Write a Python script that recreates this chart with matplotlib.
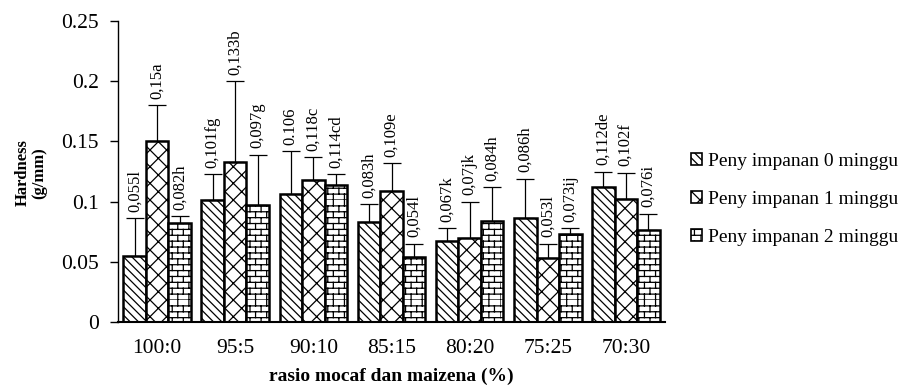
import warnings
warnings.filterwarnings("ignore")
import numpy as np
import matplotlib
matplotlib.use("Agg")
import matplotlib.pyplot as plt
import matplotlib.hatch as mhatch
from matplotlib.path import Path
from matplotlib.patches import Patch

# ---------------- data ----------------
categories = ["100:0", "95:5", "90:10", "85:15", "80:20", "75:25", "70:30"]
series_names = ["Peny impanan 0 minggu", "Peny impanan 1 minggu", "Peny impanan 2 minggu"]
week0 = [0.055, 0.101, 0.106, 0.083, 0.067, 0.086, 0.112]
week1 = [0.150, 0.133, 0.118, 0.109, 0.070, 0.053, 0.102]
week2 = [0.082, 0.097, 0.114, 0.054, 0.084, 0.073, 0.076]
err0 = [0.031, 0.022, 0.036, 0.015, 0.011, 0.033, 0.013]
err1 = [0.030, 0.067, 0.019, 0.023, 0.030, 0.012, 0.022]
err2 = [0.006, 0.042, 0.009, 0.011, 0.028, 0.005, 0.014]
labels0 = ["0,055l", "0,101fg", "0.106", "0,083h", "0,067k", "0,086h", "0,112de"]
labels1 = ["0,15a", "0,133b", "0,118c", "0,109e", "0,07jk", "0,053l", "0,102f"]
labels2 = ["0,082h", "0,097g", "0,114cd", "0,054l", "0,084h", "0,073ij", "0,076i"]
yticks = [0, 0.05, 0.1, 0.15, 0.2, 0.25]
ytick_labels = ["0", "0.05", "0.1", "0.15", "0.2", "0.25"]


# ---------------- custom brick hatch ----------------
class Bricks(mhatch.HatchPatternBase):
    def __init__(self, hatch, density):
        c = hatch.count('B')
        self.rows = 17 * c
        self.cols = 9 * c
        if c:
            self.num_vertices = self.rows * 2 + self.rows * self.cols * 2
        else:
            self.num_vertices = 0

    def set_vertices_and_codes(self, vertices, codes):
        n, m = self.rows, self.cols
        h, w = 1.0 / n, 1.0 / m
        i = 0
        for k in range(n):
            y = k * h
            vertices[i] = (0, y); vertices[i + 1] = (1, y)
            codes[i] = Path.MOVETO; codes[i + 1] = Path.LINETO
            i += 2
            off = 0.5 * w if k % 2 else 0.0
            for j in range(m):
                x = j * w + off
                vertices[i] = (x, y); vertices[i + 1] = (x, y + h)
                codes[i] = Path.MOVETO; codes[i + 1] = Path.LINETO
                i += 2


mhatch._hatch_types.append(Bricks)

plt.rcParams['font.family'] = ['Liberation Serif', 'DejaVu Serif']
plt.rcParams['hatch.linewidth'] = 0.9

fig = plt.figure(figsize=(9.22, 3.88), dpi=100)
ax = fig.add_axes([118 / 922, 66 / 388, (665 - 118) / 922, (367 - 66) / 388])

x = np.arange(len(categories))
bw = 0.288
hatches = ['\\\\\\\\', 'xx', 'B']
vals = [week0, week1, week2]
errs = [err0, err1, err2]
labs = [labels0, labels1, labels2]

for s in range(3):
    pos = x + (s - 1) * bw
    ax.bar(pos, vals[s], width=bw, color='white', edgecolor='black',
           linewidth=1.8, hatch=hatches[s], zorder=2)
    ax.errorbar(pos, vals[s], yerr=[np.zeros(len(vals[s])), errs[s]],
                fmt='none', ecolor='black', elinewidth=0.9, capsize=6.5,
                capthick=0.9, zorder=1)
    for xi, v, e, t in zip(pos, vals[s], errs[s], labs[s]):
        ax.annotate(t, (xi, v + e), xytext=(0, 4.5), textcoords='offset points',
                    rotation=90, ha='center', va='bottom', fontsize=12)

ax.set_xlim(-0.5, len(categories) - 0.5)
ax.set_ylim(0, 0.25)
ax.set_yticks(yticks)
ax.set_yticklabels(ytick_labels, fontsize=15.5)
ax.set_xticks(x)
ax.set_xticklabels(categories, fontsize=15.5)
ax.tick_params(axis='x', length=0, pad=12)
ax.tick_params(axis='y', length=6, width=1, direction='out', pad=8)
for sp in ['top', 'right']:
    ax.spines[sp].set_visible(False)
ax.spines['left'].set_linewidth(1)
ax.spines['bottom'].set_linewidth(1.5)

fig.text(391 / 922, 1 - 376 / 388, "rasio mocaf dan maizena (%)", fontsize=14,
         fontweight='bold', ha='center', va='center')
fig.text(31 / 922, 1 - 173 / 388, "Hardness\n(g/mm)", rotation=90, fontsize=12,
         fontweight='bold', ha='center', va='center', ma='center', linespacing=1.1)

handles = [Patch(facecolor='white', edgecolor='black', hatch=hatches[s], linewidth=1.2)
           for s in range(3)]
leg = fig.legend(handles, series_names, loc='upper left',
                 bbox_to_anchor=(691 / 922, 1 - 153 / 388),
                 frameon=False, fontsize=14, handlelength=0.57, handleheight=0.57,
                 handletextpad=0.3, labelspacing=1.08, borderpad=0, borderaxespad=0)

fig.savefig("out.png", dpi=100)
